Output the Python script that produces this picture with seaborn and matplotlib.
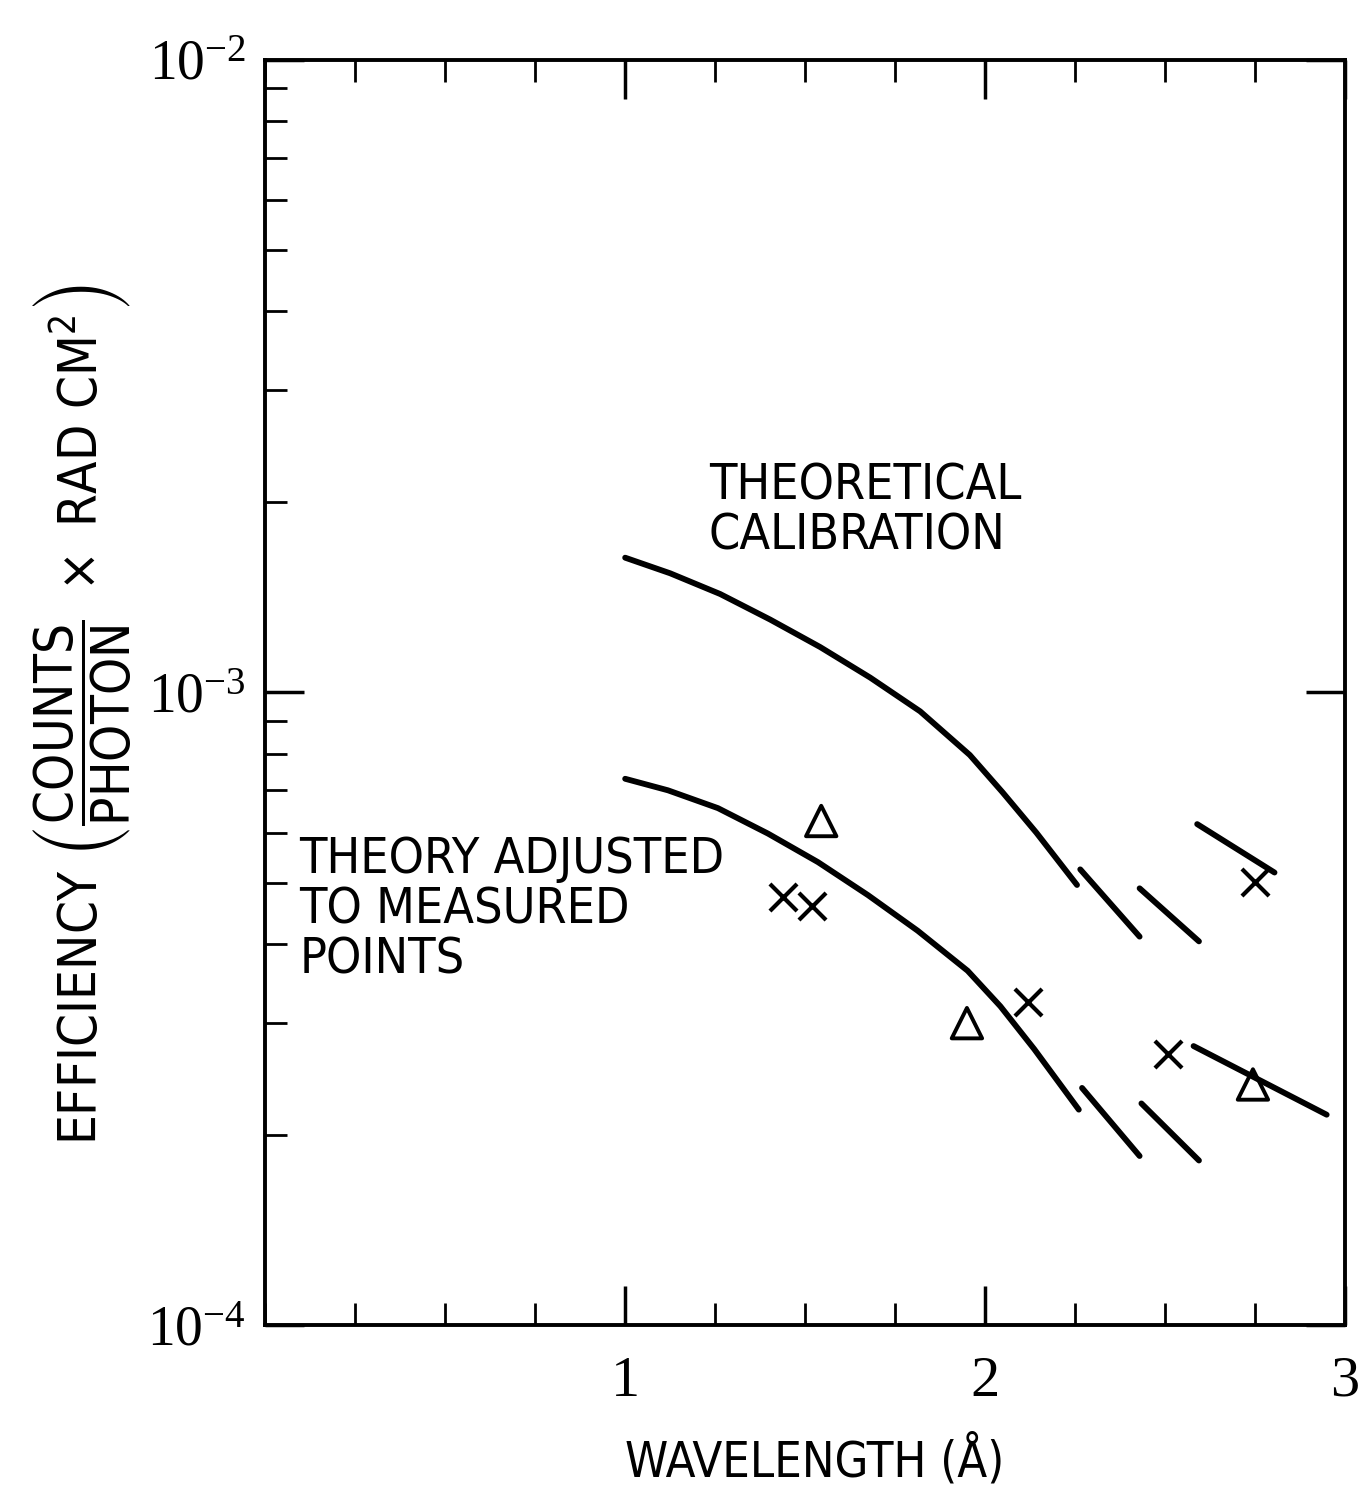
import pandas as pd
import matplotlib
matplotlib.use("Agg")
import matplotlib.pyplot as plt
import matplotlib.ticker as mticker
import seaborn as sns

# -------------------------------
# DATA
# -------------------------------
theory_x = [1.00, 1.125, 1.264, 1.403, 1.542, 1.681, 1.820, 1.958, 2.049, 2.143, 2.256]
theory_y = [1.632e-3, 1.542e-3, 1.430e-3, 1.303e-3, 1.179e-3, 1.055e-3,
            9.33e-4, 7.96e-4, 6.95e-4, 6.00e-4, 4.96e-4]

adjusted_x = [1.00, 1.119, 1.258, 1.397, 1.536, 1.675, 1.813, 1.952, 2.043, 2.137, 2.261]
adjusted_y = [7.30e-4, 7.00e-4, 6.56e-4, 5.98e-4, 5.39e-4, 4.78e-4,
              4.20e-4, 3.63e-4, 3.19e-4, 2.73e-4, 2.19e-4]

# short edge segments (start x, end x) / (start y, end y)
theory_seg_x = [(2.265, 2.43), (2.43, 2.595), (2.59, 2.805)]
theory_seg_y = [(5.25e-4, 4.11e-4), (4.90e-4, 4.04e-4), (6.19e-4, 5.19e-4)]
adjusted_seg_x = [(2.27, 2.43), (2.435, 2.595), (2.58, 2.95)]
adjusted_seg_y = [(2.37e-4, 1.85e-4), (2.24e-4, 1.82e-4), (2.76e-4, 2.15e-4)]

tri_x = [1.545, 1.95, 2.745]
tri_y = [6.26e-4, 3.0e-4, 2.40e-4]
cross_x = [1.44, 1.52, 2.12, 2.51, 2.75]
cross_y = [4.75e-4, 4.59e-4, 3.24e-4, 2.68e-4, 5.02e-4]

XTICKS = [1, 2, 3]
YTICKS = [1e-4, 1e-3, 1e-2]

SANS = ["DejaVu Sans"]
SERIF = ["Liberation Serif", "DejaVu Serif"]

# -------------------------------
# PLOT
# -------------------------------
sns.set_style("ticks")
plt.rcParams["font.family"] = SANS
plt.rcParams["font.stretch"] = "condensed"
plt.rcParams["text.color"] = "black"
plt.rcParams["axes.labelcolor"] = "black"
plt.rcParams["xtick.color"] = "black"
plt.rcParams["ytick.color"] = "black"

fig = plt.figure(figsize=(13.61, 14.88), dpi=100)
ax = fig.add_axes([0.195, 0.1095, 0.793, 0.8505])

line_kw = dict(ax=ax, color="black", lw=4.2, sort=False, solid_capstyle="round")
sns.lineplot(x=theory_x, y=theory_y, **line_kw)
sns.lineplot(x=adjusted_x, y=adjusted_y, **line_kw)
for sx, sy in zip(theory_seg_x + adjusted_seg_x, theory_seg_y + adjusted_seg_y):
    sns.lineplot(x=list(sx), y=list(sy), **line_kw)

markers = pd.DataFrame({
    "x": tri_x + cross_x,
    "y": tri_y + cross_y,
    "kind": ["tri"] * len(tri_x) + ["cross"] * len(cross_x),
})
sns.scatterplot(data=markers[markers.kind == "tri"], x="x", y="y", ax=ax,
                marker="^", s=480, facecolor="none", edgecolor="black",
                linewidth=2.8, legend=False)
sns.scatterplot(data=markers[markers.kind == "cross"], x="x", y="y", ax=ax,
                marker="x", s=380, color="black", linewidth=3, legend=False)

ax.set_yscale("log")
ax.set_xlim(0, 3)
ax.set_ylim(1e-4, 1e-2)

ax.set_xticks(XTICKS)
ax.set_xticklabels([str(t) for t in XTICKS], fontfamily=SERIF, fontsize=42)
ax.xaxis.set_minor_locator(mticker.MultipleLocator(0.25))
ax.set_yticks(YTICKS)
ax.yaxis.set_major_formatter(mticker.LogFormatterMathtext())
ax.yaxis.set_minor_locator(mticker.LogLocator(base=10, subs=range(2, 10)))
ax.yaxis.set_minor_formatter(mticker.NullFormatter())
for lab in ax.get_yticklabels():
    lab.set_fontfamily(SERIF)
    lab.set_fontsize(40)

ax.tick_params(which="both", direction="in", top=True)
ax.tick_params(which="major", length=28, width=2.5, right=True)
ax.tick_params(which="minor", length=16, width=2, right=False)
ax.tick_params(axis="x", which="major", pad=22)
ax.tick_params(axis="y", which="major", pad=14)

for side in ["left", "right", "top", "bottom"]:
    ax.spines[side].set_visible(True)
    ax.spines[side].set_linewidth(2.8)
    ax.spines[side].set_color("black")

ax.set_xlabel("WAVELENGTH (Å)", fontsize=35, va="top")
ax.xaxis.set_label_coords(0.509, -0.086)
ax.set_ylabel(r"EFFICIENCY $\left(\dfrac{\mathrm{COUNTS}}{\mathrm{PHOTON}}\ \times\ \mathrm{RAD\ CM}^{2}\right)$",
              fontsize=38)
ax.yaxis.set_label_coords(-0.122, 0.482)

ax.text(0.411, 0.682, "THEORETICAL\nCALIBRATION", transform=ax.transAxes,
        fontsize=36, va="top", ha="left", linespacing=1.05)
ax.text(0.0315, 0.387, "THEORY ADJUSTED\nTO MEASURED\nPOINTS", transform=ax.transAxes,
        fontsize=36, va="top", ha="left", linespacing=1.05)

plt.savefig("out.png", dpi=100, facecolor="white")
plt.close()
